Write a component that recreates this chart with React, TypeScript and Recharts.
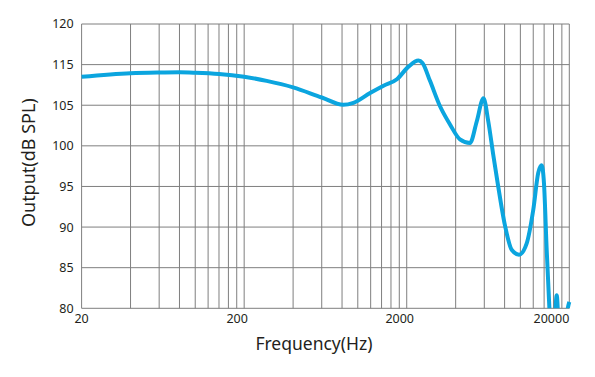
import React from 'react';
import {
  LineChart,
  Line,
  XAxis,
  YAxis,
  CartesianGrid,
  ReferenceLine,
  Label
} from 'recharts';

// frequency response
const freqs = [
  20, 40, 60, 80, 100, 140, 200, 275, 400, 600, 815, 940, 1190, 1440, 1740,
  2050, 2360, 2500, 2780, 3200, 3700, 4250, 4900, 5390, 5930, 6350, 6810,
  7280, 8040, 8840, 9810, 10940, 12000, 12890, 13520, 13970, 14520, 15070,
  15650, 16200, 16730, 17250, 17800, 18500, 19300, 20000
];
const output = [
  108.5, 108.95, 109.03, 109.05, 109.0, 108.85, 108.5, 108.0, 107.2, 105.95,
  105.05, 105.3, 106.5, 107.4, 108.2, 109.75, 110.5, 110.2, 108.0, 104.9,
  102.6, 100.8, 100.35, 103.0, 105.85, 103.0, 98.9, 95.2, 90.2, 87.2, 86.6,
  88.0, 92.1, 96.7, 97.6, 95.4, 87.2, 80.2, 72, 77, 81.6, 77, 72, 72.5, 79,
  80.8
];

const xTicks = [20, 200, 2000, 20000];
const gridFreqs = [
  20, 40, 60, 80, 100, 120, 140, 160, 180, 200,
  400, 600, 800, 1000, 1200, 1400, 1600, 1800, 2000,
  4000, 6000, 8000, 10000, 12000, 14000, 16000, 18000, 20000
];
const yTicks = [80, 85, 90, 95, 100, 105, 110, 115];
// the printed labels skip 110
const yTickLabels = ['80', '85', '90', '95', '100', '105', '115', '120'];

const data = freqs.map((f, i) => ({ freq: f, spl: output[i] }));

const FONT = '"Noto Sans", "Open Sans", sans-serif';
const TEXT = '#231f20';
const GRID = '#7f7f7f';

if (typeof document !== 'undefined') document.body.style.margin = '0';

const XTick = ({ x, y, payload }: any) => {
  const last = payload.value === xTicks[xTicks.length - 1];
  const first = payload.value === xTicks[0];
  return (
    <text
      x={x}
      y={y}
      dx={first || last ? 0 : -7}
      dy={9}
      textAnchor={last ? 'end' : 'middle'}
      fill={TEXT}
      fontSize={12.5}
      fontFamily={FONT}
    >
      {payload.value}
    </text>
  );
};

const YTitle = ({ viewBox }: any) => {
  const cx = viewBox.x + 28.5;
  const cy = viewBox.y + viewBox.height / 2 - 3.5;
  return (
    <text
      x={cx}
      y={cy}
      transform={`rotate(-90 ${cx} ${cy})`}
      textAnchor="middle"
      dominantBaseline="central"
      fill={TEXT}
      fontSize={18}
      fontFamily={FONT}
    >
      Output(dB SPL)
    </text>
  );
};

const XTitle = ({ viewBox }: any) => (
  <text
    x={viewBox.x + viewBox.width / 2 - 11.5}
    y={viewBox.y + 41.2}
    textAnchor="middle"
    fill={TEXT}
    fontSize={17.5}
    fontFamily={FONT}
  >
    Frequency(Hz)
  </text>
);

const App: React.FC = () => {
  return (
    <div style={{ width: 595, height: 377, background: '#fff' }}>
      <LineChart
        width={595}
        height={377}
        data={data}
        margin={{ top: 24, right: 25.7, bottom: 0, left: 0 }}
      >
        <CartesianGrid vertical={false} stroke={GRID} strokeWidth={1} />
        {gridFreqs.map((f) => (
          <ReferenceLine key={f} x={f} stroke={GRID} strokeWidth={1} />
        ))}
        <XAxis
          dataKey="freq"
          type="number"
          scale="log"
          domain={[20, 20000]}
          ticks={xTicks}
          interval={0}
          height={68.7}
          axisLine={false}
          tickLine={false}
          tickSize={4}
          tickMargin={2}
          tick={<XTick />}
        >
          <Label content={<XTitle />} />
        </XAxis>
        <YAxis
          type="number"
          domain={[80, 115]}
          ticks={yTicks}
          allowDataOverflow
          interval={0}
          width={81.6}
          axisLine={false}
          tickLine={false}
          tick={{ fill: TEXT, fontSize: 12.5, fontFamily: FONT }}
          tickFormatter={(v: number) => yTickLabels[yTicks.indexOf(v)]}
        >
          <Label content={<YTitle />} />
        </YAxis>
        <Line
          type="monotone"
          dataKey="spl"
          stroke="#0ba5df"
          strokeWidth={4}
          dot={false}
          activeDot={false}
          isAnimationActive={false}
        />
      </LineChart>
    </div>
  );
};

export default App;
